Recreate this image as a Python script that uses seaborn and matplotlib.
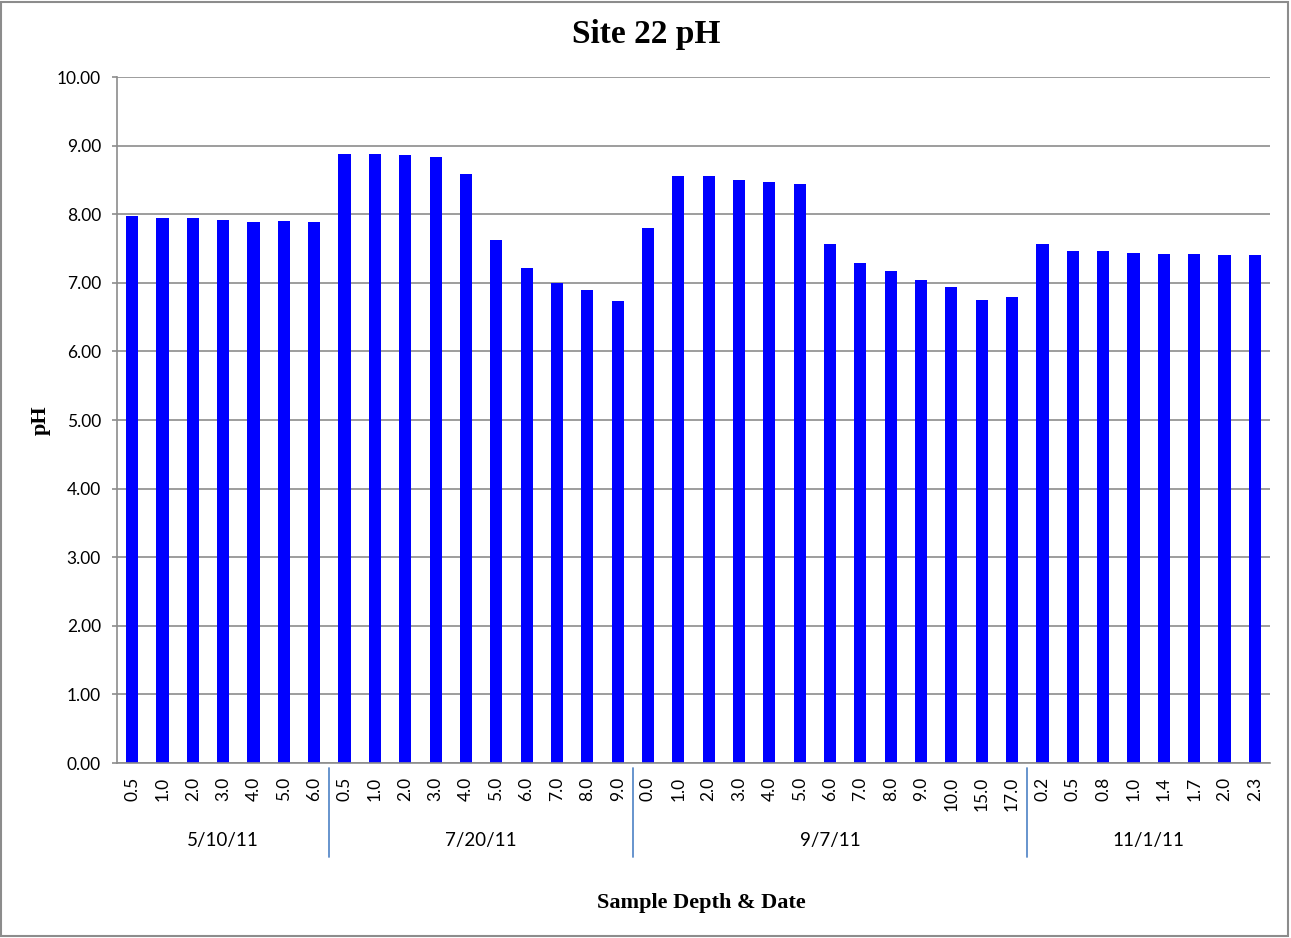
import numpy as np
import pandas as pd
import matplotlib
matplotlib.use("Agg")
import matplotlib.pyplot as plt
import matplotlib.transforms as mtransforms
import seaborn as sns

# ---- data ----
dates = ["5/10/11", "7/20/11", "9/7/11", "11/1/11"]
depths_0510 = ["0.5", "1.0", "2.0", "3.0", "4.0", "5.0", "6.0"]
ph_0510 = [7.98, 7.94, 7.94, 7.91, 7.89, 7.90, 7.88]
depths_0720 = ["0.5", "1.0", "2.0", "3.0", "4.0", "5.0", "6.0", "7.0", "8.0", "9.0"]
ph_0720 = [8.88, 8.88, 8.87, 8.83, 8.59, 7.63, 7.21, 7.00, 6.90, 6.74]
depths_0907 = ["0.0", "1.0", "2.0", "3.0", "4.0", "5.0", "6.0", "7.0", "8.0", "9.0", "10.0", "15.0", "17.0"]
ph_0907 = [7.80, 8.56, 8.55, 8.50, 8.47, 8.44, 7.57, 7.29, 7.17, 7.04, 6.94, 6.75, 6.79]
depths_1101 = ["0.2", "0.5", "0.8", "1.0", "1.4", "1.7", "2.0", "2.3"]
ph_1101 = [7.57, 7.47, 7.46, 7.44, 7.42, 7.42, 7.41, 7.41]

groups = [(dates[0], depths_0510, ph_0510), (dates[1], depths_0720, ph_0720),
          (dates[2], depths_0907, ph_0907), (dates[3], depths_1101, ph_1101)]

rows = []
for d, deps, vals in groups:
    for dep, v in zip(deps, vals):
        rows.append({"key": f"{d}|{dep}", "date": d, "depth": dep, "pH": v})
df = pd.DataFrame(rows)

sns.set_theme(style="white")
plt.rcParams["text.color"] = "black"
plt.rcParams["xtick.color"] = "black"
plt.rcParams["ytick.color"] = "black"
serif = ["Liberation Serif", "DejaVu Serif"]
sansf = ["Lato", "DejaVu Sans"]

fig = plt.figure(figsize=(12.91, 9.38), dpi=100)
ax = fig.add_axes([117/1291, 1 - 763/938, (1270-117)/1291, (763-77)/938])

sns.barplot(data=df, x="key", y="pH", order=list(df["key"]), color="#0000FF",
            saturation=1, width=0.4, ax=ax, edgecolor="none")

ax.set_ylim(0, 10)
ax.set_xlim(-0.5, len(df) - 0.5)
ax.set_yticks(np.arange(0, 10.01, 1.0))
ax.set_yticklabels([f"{v:.2f}" for v in np.arange(0, 10.01, 1.0)], fontfamily=sansf,
                   fontsize=12.5, color="black")
ax.grid(axis="y", color="#8c8c8c", linewidth=1.2)
ax.set_axisbelow(True)
for s in ["top", "right"]:
    ax.spines[s].set_visible(False)
for s in ["left", "bottom"]:
    ax.spines[s].set_color("#8c8c8c")
    ax.spines[s].set_linewidth(1.2)
ax.tick_params(axis="y", left=True, length=3.6, color="#8c8c8c", width=1.2, pad=8)
ax.tick_params(axis="x", bottom=False, length=0, pad=10)
ax.set_xticks(range(len(df)))
ax.set_xticklabels(df["depth"], rotation=90, fontfamily=sansf, fontsize=12.5,
                   va="top", color="black")

# group labels and separators
trans = mtransforms.blended_transform_factory(ax.transData, ax.transAxes)
start = 0
for i, (d, deps, vals) in enumerate(groups):
    n = len(deps)
    center = start + (n - 1) / 2
    ax.text(center, -(840 - 763) / 686, d, transform=trans, ha="center", va="center",
            fontfamily=sansf, fontsize=13.5, color="black")
    if i < len(groups) - 1:
        xb = start + n - 0.5
        ax.plot([xb, xb], [-(768 - 763) / 686, -(857 - 763) / 686], transform=trans,
                color="#5b8bc9", linewidth=1.3, clip_on=False)
    start += n

ax.set_xlabel("")
ax.set_ylabel("")
fig.text(646/1291, 1 - 35/938, "Site 22 pH", ha="center", va="center",
         fontfamily=serif, fontweight="bold", fontsize=24, color="black")
fig.text(701/1291, 1 - 903/938, "Sample Depth & Date", ha="center", va="center",
         fontfamily=serif, fontweight="bold", fontsize=16, color="black")
fig.text(41/1291, 1 - 420/938, "pH", ha="center", va="center", rotation=90,
         fontfamily=serif, fontweight="bold", fontsize=16, color="black")

# outer border
fig.patches.append(plt.Rectangle((0.001, 0.002), 0.997, 0.996, transform=fig.transFigure,
                                 fill=False, edgecolor="#8c8c8c", linewidth=1.5))

fig.savefig("out.png", dpi=100)
